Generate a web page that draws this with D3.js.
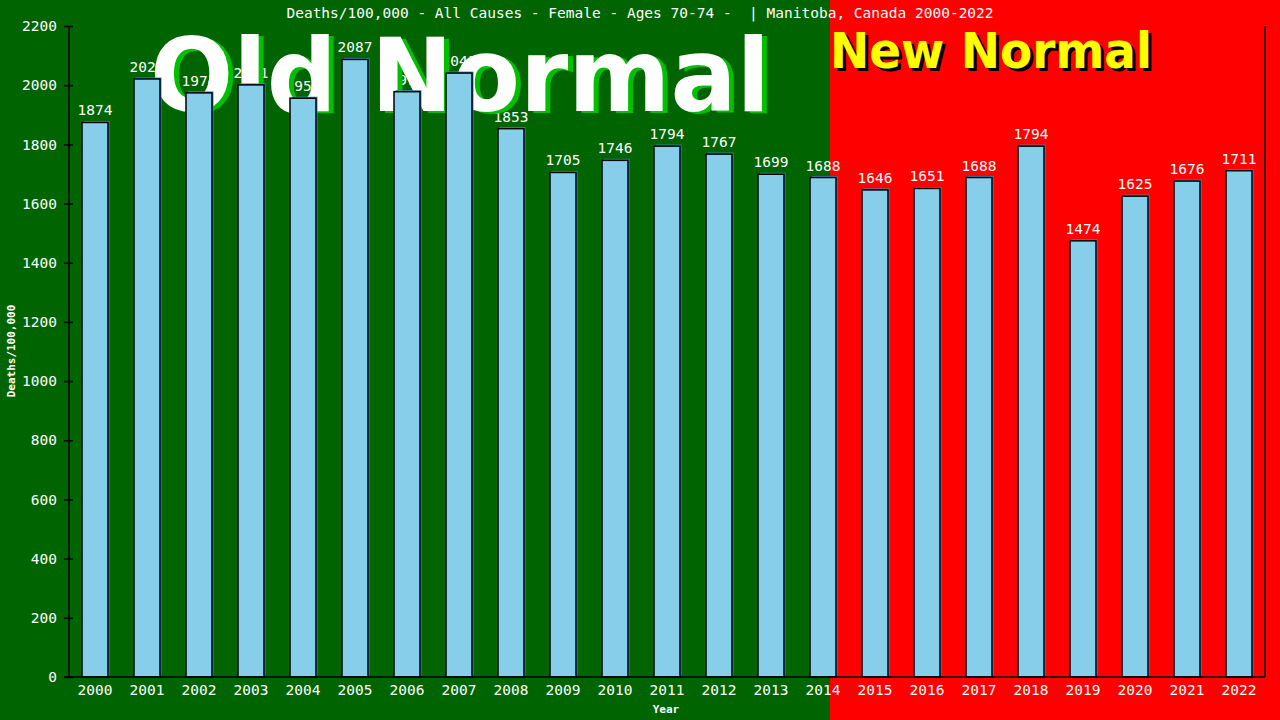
<!DOCTYPE html>
<html>
<head>
<meta charset="utf-8">
<script src="https://cdn.jsdelivr.net/npm/d3@7"></script>
<style>
  body { margin: 0; background: #000; }
  svg { display: block; }
</style>
</head>
<body>
<svg id="chart" width="1280" height="720"></svg>
<script>
// values (the hidden ones)
const years = ["2000","2001","2002","2003","2004","2005","2006","2007","2008","2009","2010","2011",
  "2012","2013","2014","2015","2016","2017","2018","2019","2020","2021","2022"];
const deaths = [1874,2021,1974,2001,1956,2087,1978,2041,1853,1705,1746,1794,
  1767,1699,1688,1646,1651,1688,1794,1474,1625,1676,1711];
const yTicks = [0,200,400,600,800,1000,1200,1400,1600,1800,2000,2200];
const title = "Deaths/100,000 - All Causes - Female - Ages 70-74 -  | Manitoba, Canada 2000-2022";

const W = 1280, H = 720
const m = {left: 69, right: 15, top: 26, bottom: 43}
const mono = "'DejaVu Sans Mono', 'Liberation Mono', monospace"
const sans = "'DejaVu Sans', Verdana, sans-serif"

const svg = d3.select("#chart")

// old / new background
svg.append("rect").attr("width", 830).attr("height", H).attr("fill", "#006400")
svg.append("rect").attr("x", 830).attr("width", W - 830).attr("height", H).attr("fill", "#ff0000")

const x = d3.scaleBand().domain(years).range([m.left, W - m.right]).paddingInner(0.5).paddingOuter(0.25)
const y = d3.scaleLinear().domain([0, 2200]).range([H - m.bottom, m.top])

// value labels (drawn under the big words, like the original)
svg.append("g").selectAll("text").data(deaths).join("text")
  .attr("x", (d, i) => x(years[i]) + x.bandwidth() / 2)
  .attr("y", d => y(d) - 7)
  .attr("text-anchor", "middle")
  .attr("fill", "white")
  .style("font-family", mono)
  .attr("font-size", 14.5)
  .text(d => d)

// big words
const big = svg.append("g").style("font-family", sans).attr("font-weight", "bold")
big.append("text").attr("x", 155).attr("y", 113).attr("font-size", 102)
  .attr("textLength", 620).attr("lengthAdjust", "spacingAndGlyphs")
  .attr("fill", "#00c000").text("Old Normal")
big.append("text").attr("x", 150).attr("y", 111).attr("font-size", 102)
  .attr("textLength", 620).attr("lengthAdjust", "spacingAndGlyphs")
  .attr("fill", "white").text("Old Normal")
big.append("text").attr("x", 833).attr("y", 71).attr("font-size", 49)
  .attr("textLength", 322).attr("lengthAdjust", "spacingAndGlyphs")
  .attr("fill", "black").text("New Normal")
big.append("text").attr("x", 830).attr("y", 68).attr("font-size", 49)
  .attr("textLength", 322).attr("lengthAdjust", "spacingAndGlyphs")
  .attr("fill", "#ffff00").text("New Normal")

// bars: blue shadow then black outlined bar
const bars = svg.append("g")
bars.selectAll(".shadow").data(deaths).join("rect")
  .attr("class", "shadow")
  .attr("x", (d, i) => x(years[i]) + 1.5)
  .attr("y", d => y(d) - 1.5)
  .attr("width", x.bandwidth())
  .attr("height", d => y(0) - y(d))
  .attr("fill", "#3f8ec4")
bars.selectAll(".bar").data(deaths).join("rect")
  .attr("class", "bar")
  .attr("x", (d, i) => x(years[i]))
  .attr("y", d => y(d))
  .attr("width", x.bandwidth())
  .attr("height", d => y(0) - y(d))
  .attr("fill", "#87ceeb")
  .attr("stroke", "black")
  .attr("stroke-width", 1.5)

// axes
const yAxis = svg.append("g").attr("transform", `translate(${m.left},0)`)
  .call(d3.axisLeft(y).tickValues(yTicks).tickFormat(d3.format("d")).tickSize(5).tickPadding(7))
yAxis.select(".domain").remove()
yAxis.selectAll(".tick line").attr("x1", -5).attr("x2", 4).attr("stroke", "black").attr("stroke-width", 1.5)
yAxis.selectAll("text").attr("fill", "white").attr("font-size", 14.5).style("font-family", mono)
svg.append("line").attr("x1", m.left).attr("x2", m.left).attr("y1", m.top).attr("y2", y(0))
  .attr("stroke", "black").attr("stroke-width", 1.5)
svg.append("line").attr("x1", W - m.right).attr("x2", W - m.right).attr("y1", m.top).attr("y2", y(0))
  .attr("stroke", "black").attr("stroke-width", 1.5)

const xAxis = svg.append("g").attr("transform", `translate(0,${y(0)})`)
  .call(d3.axisBottom(x).tickSize(0).tickPadding(8))
xAxis.select(".domain").attr("d", `M${m.left - 5},0H${W - m.right}`).attr("stroke", "black").attr("stroke-width", 1.5)
xAxis.selectAll("text").attr("fill", "white").attr("font-size", 14.5).style("font-family", mono)

// titles
svg.append("text").attr("x", W / 2).attr("y", 18).attr("text-anchor", "middle")
  .style("font-family", mono).style("white-space", "pre")
  .attr("fill", "white").attr("font-size", 14.5).text(title)
svg.append("text").attr("x", 666).attr("y", 713).attr("text-anchor", "middle").style("font-family", mono)
  .attr("fill", "white").attr("font-size", 11).attr("font-weight", "bold").text("Year")
svg.append("text").attr("transform", "translate(15,351) rotate(-90)").attr("text-anchor", "middle")
  .style("font-family", mono)
  .attr("fill", "white").attr("font-size", 11).attr("font-weight", "bold").text("Deaths/100,000")
</script>
</body>
</html>
